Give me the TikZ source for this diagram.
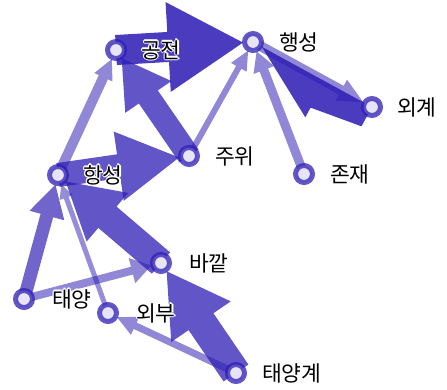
\documentclass[tikz,border=0pt]{standalone}
\usepackage{fontspec}
\newfontfamily\krfont{Noto Sans CJK KR}
\usetikzlibrary{calc}
\pgfdeclarelayer{edges}
\pgfsetlayers{edges,main}

\definecolor{ink}{RGB}{45,28,180}
\definecolor{ringfill}{RGB}{230,228,246}

% white outline behind label text
\newcommand\haloshift[3]{\rlap{\kern#1\raise#2\hbox{\color{white}#3}}}
\newcommand\halo[1]{%
  \haloshift{1.2pt}{0pt}{#1}\haloshift{-1.2pt}{0pt}{#1}%
  \haloshift{0pt}{1.2pt}{#1}\haloshift{0pt}{-1.2pt}{#1}%
  \haloshift{.85pt}{.85pt}{#1}\haloshift{-.85pt}{.85pt}{#1}%
  \haloshift{.85pt}{-.85pt}{#1}\haloshift{-.85pt}{-.85pt}{#1}#1}

\tikzset{
  vert/.style={circle, draw=ink, draw opacity=0.74, line width=5pt,
    fill=ringfill, minimum size=17pt, inner sep=0pt},
  lbl/.style={anchor=west, inner sep=0pt,
    font=\krfont\fontsize{21.5}{21.5}\selectfont, text=black},
  flow/.style={fill=ink, draw=none},
}

% wedge arrow: #1 source, #2 target, #3 shaft half width,
% #4 head base distance from target centre, #5 head half width, #6 opacity
\newcommand\flowarrow[6]{%
  \path ($(#2.center)!10pt!(#1.center)$) coordinate (ftip)
        ($(#2.center)!#4!(#1.center)$) coordinate (fbase);
  \fill[flow, fill opacity=#6]
    ($(#1.center)!#3!90:(#2.center)$) -- ($(fbase)!#3!90:(#2.center)$)
    -- ($(fbase)!#5!90:(#2.center)$) -- (ftip)
    -- ($(fbase)!#5!-90:(#2.center)$) -- ($(fbase)!#3!-90:(#2.center)$)
    -- ($(#1.center)!#3!-90:(#2.center)$) -- cycle;
}

\begin{document}
\begin{tikzpicture}[x=1pt, y=-1pt]
\useasboundingbox (0,0) rectangle (447,389);

% vertices
\node[vert] (G) at (116,50) {};
\node[vert] (H) at (253,42) {};
\node[vert] (W) at (372,107) {};
\node[vert] (J) at (189,156) {};
\node[vert] (Z) at (304,174) {};
\node[vert] (S) at (58,175) {};
\node[vert] (B) at (161,263) {};
\node[vert] (T) at (24,299) {};
\node[vert] (O) at (108,313) {};
\node[vert] (Y) at (236,373) {};

\begin{pgfonlayer}{edges}
  % heavy links
  \flowarrow{G}{H}{15pt}{85pt}{45pt}{0.86}
  \path ($(H.center)!10pt!(W.center)$) coordinate (htip)
        ($(H.center)!82pt!(W.center)$) coordinate (hbase);
  \fill[flow, fill opacity=0.86]
    (htip) -- ($(hbase)!41pt!90:(H.center)$) -- ($(hbase)!30pt!90:(H.center)$)
    -- ($(W.center)!22pt!90:(H.center)$) -- (W.center) -- cycle;
  \flowarrow{J}{G}{11.5pt}{57pt}{28pt}{0.75}
  \flowarrow{S}{J}{12pt}{71pt}{35pt}{0.75}
  \flowarrow{B}{S}{14pt}{65pt}{32pt}{0.75}
  \flowarrow{Y}{B}{15pt}{71pt}{36pt}{0.75}
  % medium link
  \flowarrow{T}{S}{6.5pt}{42pt}{18pt}{0.68}
  % light links
  \flowarrow{H}{W}{5pt}{35pt}{12pt}{0.53}
  \flowarrow{J}{H}{3pt}{29pt}{9pt}{0.53}
  \flowarrow{Z}{H}{4.5pt}{30pt}{11pt}{0.53}
  \flowarrow{S}{G}{5pt}{30pt}{10pt}{0.53}
  \flowarrow{T}{B}{4pt}{30pt}{13pt}{0.53}
  \flowarrow{Y}{O}{3.5pt}{30pt}{10pt}{0.53}
  \flowarrow{O}{S}{2.5pt}{24pt}{7pt}{0.5}
\end{pgfonlayer}

% labels
\node[lbl] (lG) at ($(G.center)+(25,0)$) {\halo{공전}};
\node[lbl] (lH) at ($(H.center)+(26,0)$) {\halo{행성}};
\node[lbl] (lW) at ($(W.center)+(25,0)$) {\halo{외계}};
\node[lbl] (lJ) at ($(J.center)+(26,0)$) {\halo{주위}};
\node[lbl] (lZ) at ($(Z.center)+(26,0)$) {\halo{존재}};
\node[lbl] (lS) at ($(S.center)+(25,0)$) {\halo{항성}};
\node[lbl] (lB) at ($(B.center)+(28,0)$) {\halo{바깥}};
\node[lbl] (lT) at ($(T.center)+(28,0)$) {\halo{태양}};
\node[lbl] (lO) at ($(O.center)+(28,0)$) {\halo{외부}};
\node[lbl] (lY) at ($(Y.center)+(26,0)$) {\halo{태양계}};
\end{tikzpicture}
\end{document}
